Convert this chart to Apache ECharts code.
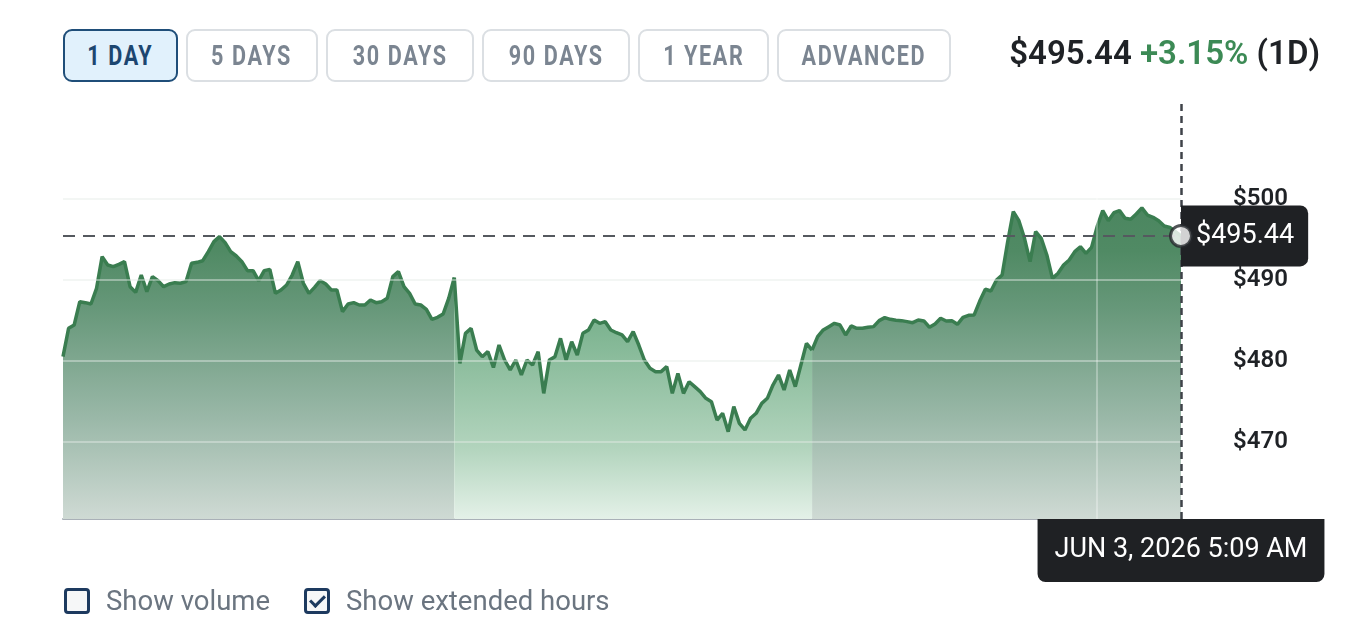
<!DOCTYPE html>
<html>
<head>
<meta charset="utf-8">
<title>1 day price</title>
<script src="https://cdn.jsdelivr.net/npm/echarts@6.0.0/dist/echarts.min.js"></script>
<style>
  body { margin: 0; background: #fff; font-family: Roboto, "Noto Sans", sans-serif; }
  .page { position: relative; width: 1362px; height: 644px; overflow: hidden; }
  #chart { position: absolute; left: 0; top: 0; width: 1362px; height: 644px; }
  .ranges { position: absolute; left: 63px; top: 29px; display: flex; gap: 8px; }
  .ranges span {
    box-sizing: border-box; height: 53px; border: 2px solid #dbdfe3; border-radius: 9px;
    color: #7b8591; display: flex; align-items: center; justify-content: center;
    font: 700 27px Roboto, sans-serif; letter-spacing: 2px;
  }
  .ranges span b { display: inline-block; font-weight: 700; transform: scaleX(0.8); white-space: nowrap; }
  .ranges .on { border-color: #1f4e79; background: #e1f1fc; color: #1c4670; }
  .quote { position: absolute; right: 42px; top: 33px; line-height: 40px; font: 600 33px Roboto, sans-serif; color: #1f2226; white-space: nowrap; }
  .quote .up { color: #3c8a55; }
  .opts { position: absolute; left: 64px; top: 584px; display: flex; align-items: center; font: 400 27.5px Roboto, sans-serif; color: #6b7580; }
  .opts label { display: flex; align-items: center; margin-right: 34px; }
  .box { box-sizing: border-box; width: 26px; height: 26px; border: 3px solid #1d3a5f; border-radius: 4px; background: #f6f7f8; margin-right: 16px; position: relative; }
  .box.checked::after { content: ''; position: absolute; left: 6px; top: 1px; width: 6px; height: 12px; border: solid #1d3a5f; border-width: 0 3px 3px 0; transform: rotate(45deg); }
</style>
</head>
<body>
<div class="page">
  <div id="chart"></div>
  <div class="ranges">
    <span class="on" style="width:115px"><b>1 DAY</b></span>
    <span style="width:132px"><b>5 DAYS</b></span>
    <span style="width:148px"><b>30 DAYS</b></span>
    <span style="width:148px"><b>90 DAYS</b></span>
    <span style="width:131px"><b>1 YEAR</b></span>
    <span style="width:174px"><b>ADVANCED</b></span>
  </div>
  <div class="quote">$495.44 <span class="up">+3.15%</span> (1D)</div>
  <div class="opts">
    <label><span class="box"></span>Show volume</label>
    <label><span class="box checked"></span>Show extended hours</label>
  </div>
</div>
<script>
// prices, one sample every few minutes
const preMarket = [
  480.53, 484.03, 484.44, 487.32, 487.2, 487.03, 488.97, 492.88, 491.85, 491.64,
  491.93, 492.26, 489.17, 488.47, 490.61, 488.56, 490.41, 489.92, 489.17, 489.5,
  489.67, 489.59, 489.79, 492.06, 492.18, 492.38, 493.5, 494.73, 495.35, 494.61,
  493.5, 492.96, 492.26, 491.15, 491.15, 489.92, 491.15, 491.31, 488.35, 488.76,
  489.38, 490.61, 492.26, 489.59, 488.35, 489.09, 489.92, 489.5, 488.76, 488.76,
  486.09, 487.03, 487.2, 486.91, 486.91, 487.53, 487.2, 487.32, 487.73, 490.41,
  491.03, 489.17, 488.35, 487.03, 486.91, 486.38, 485.14, 485.39, 485.8, 487.73
]
const regular = [
  490.3, 479.7, 483.41, 484.03, 481.35, 480.53, 481.15, 479.2, 481.97, 480.12,
  478.89, 480.12, 478.27, 480.12, 479.5, 481.15, 476.0, 480.12, 480.53, 482.79,
  480.12, 482.38, 480.74, 483.41, 483.82, 485.06, 484.65, 484.85, 483.82, 483.49,
  483.21, 482.38, 483.62, 481.97, 480.12, 479.09, 478.68, 478.68, 479.3, 476.0,
  478.47, 476.0, 477.44, 476.83, 476.21, 475.39, 474.98, 472.71, 473.54, 471.27,
  474.36, 472.3, 471.48, 472.92, 473.54, 474.77, 475.39, 477.03, 478.27, 476.42,
  478.89, 476.83, 479.5, 482.18, 481.35
]
const afterHours = [
  483.0, 483.83, 484.24, 484.65, 484.44, 483.21, 484.32, 484.03, 484.03, 484.16,
  484.24, 484.98, 485.35, 485.14, 485.02, 484.98, 484.86, 484.73, 485.06, 484.94,
  484.16, 484.57, 485.27, 484.94, 484.98, 484.53, 485.39, 485.64, 485.68, 487.4,
  488.85, 488.64, 490.0, 490.62, 494.73, 498.43, 497.32, 495.14, 492.26, 495.97,
  495.14, 493.09, 490.2, 490.82, 491.85, 492.47, 493.5, 494.11, 493.29, 494.03,
  496.58, 498.56, 497.32, 498.31, 498.56, 497.61, 497.49, 498.15, 498.9, 498.02,
  497.74, 497.32, 496.67, 496.5, 495.97, 495.44
]
const priceTicks = [470, 480, 490, 500]
const overnightStart = 185
const lastTimeLabel = 'JUN 3, 2026 5:09 AM'

const prices = preMarket.concat(regular, afterHours)
const times = prices.map((p, i) => i)
const regStart = preMarket.length
const regEnd = preMarket.length + regular.length - 1
const last = prices.length - 1
const lastPrice = prices[last]

// extended hours get the greyer fill, regular session the lighter one
const extData = prices.map((p, i) => (i <= regStart || i >= regEnd) ? p : '-')
const regData = prices.map((p, i) => (i >= regStart && i <= regEnd) ? p : '-')

function fade(stops) {
  return {
    type: 'linear', x: 0, y: 100, x2: 0, y2: 519, global: true,
    colorStops: stops.map(s => ({ offset: s[0], color: s[1] }))
  }
}
const extFill = fade([[0, '#3f7d55'], [0.36, '#508a64'], [0.5, '#67987a'], [0.76, '#9ab8a8'], [1, '#cfdad4']])
const regFill = fade([[0, '#4e9468'], [0.55, '#7fb592'], [0.83, '#b2d4bd'], [1, '#e4f1e8']])
const lineColor = '#3a7d50'
const tagLabel = {
  show: true, distance: 0,
  color: '#fff', backgroundColor: '#1f2124',
  fontSize: 27, lineHeight: 31, fontFamily: 'Roboto, sans-serif'
}

const chart = echarts.init(document.getElementById('chart'))
chart.setOption({
  animation: false,
  grid: { left: 63, right: 181, top: 100, bottom: 125 },
  xAxis: {
    type: 'category',
    data: times,
    boundaryGap: false,
    axisLine: { lineStyle: { color: '#a9b0b7', width: 2 } },
    axisTick: { show: false },
    axisLabel: { show: false },
    splitLine: { show: false }
  },
  yAxis: {
    type: 'value',
    position: 'right',
    min: 460.49,
    max: 512.22,
    axisLine: { show: false },
    axisTick: { show: false },
    splitLine: { show: false },
    axisLabel: {
      customValues: priceTicks,
      formatter: v => '$' + v,
      margin: 52,
      color: '#1f2226',
      fontSize: 24,
      fontWeight: 600,
      fontFamily: 'Roboto, sans-serif'
    }
  },
  series: [
    {
      name: 'extended',
      type: 'line',
      data: extData,
      symbol: 'none',
      lineStyle: { color: lineColor, width: 3.5 },
      areaStyle: { color: extFill, opacity: 1 },
      z: 2
    },
    {
      name: 'regular',
      type: 'line',
      data: regData,
      symbol: 'none',
      lineStyle: { color: lineColor, width: 3.5 },
      areaStyle: { color: regFill, opacity: 1 },
      z: 2
    },
    {
      name: 'grid',
      type: 'line',
      data: [],
      z: 3,
      markLine: {
        silent: true,
        symbol: ['none', 'none'],
        label: { show: false },
        lineStyle: { color: 'rgba(228,234,231,0.45)', width: 2, type: 'solid' },
        data: priceTicks.map(v => ({ yAxis: v })).concat([
          { xAxis: overnightStart, lineStyle: { color: 'rgba(255,255,255,0.3)', width: 2, type: 'solid' } }
        ])
      }
    },
    {
      name: 'cross',
      type: 'line',
      data: [],
      z: 4,
      markLine: {
        silent: true,
        symbol: ['none', 'none'],
        label: { show: false },
        data: [
          { yAxis: lastPrice, lineStyle: { type: [12, 8], color: '#55595f', width: 2 } },
          { xAxis: last, lineStyle: { type: [7, 5], color: '#3f4349', width: 2.5 } }
        ]
      }
    },
    {
      name: 'last',
      type: 'scatter',
      data: [[last, lastPrice]],
      symbolSize: 21,
      itemStyle: { color: '#fff', borderColor: '#26292d', borderWidth: 3 },
      z: 5
    },
    {
      name: 'tags',
      type: 'line',
      data: [],
      z: 6,
      markLine: {
        silent: true,
        symbol: ['none', 'none'],
        lineStyle: { color: 'rgba(0,0,0,0)', width: 1 },
        data: [
          {
            yAxis: lastPrice,
            label: Object.assign({}, tagLabel, {
              position: 'end',
              formatter: '$' + lastPrice.toFixed(2),
              padding: [15, 14, 15, 15], borderRadius: [0, 8, 8, 0]
            })
          },
          {
            xAxis: last,
            label: Object.assign({}, tagLabel, {
              position: 'start',
              formatter: lastTimeLabel,
              padding: [16, 17, 16, 17], borderRadius: [0, 0, 8, 8]
            })
          }
        ]
      }
    }
  ]
})
</script>
</body>
</html>
